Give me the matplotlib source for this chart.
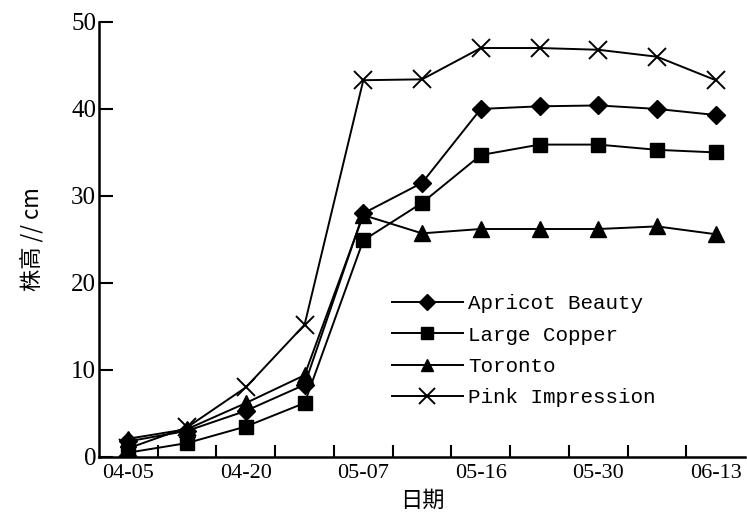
import numpy as np
import matplotlib.pyplot as plt

# 日期(11個觀測點, 只標每隔一個)
dates = ['04-05', '04-12', '04-20', '04-28', '05-07', '05-12',
         '05-16', '05-23', '05-30', '06-06', '06-13']
apricot = [1.8, 3.0, 5.3, 8.3, 28.0, 31.5, 40.0, 40.3, 40.4, 40.0, 39.3]
copper = [0.5, 1.6, 3.5, 6.2, 24.9, 29.2, 34.7, 35.9, 35.9, 35.3, 35.0]
toronto = [2.1, 3.2, 6.2, 9.4, 27.8, 25.7, 26.2, 26.2, 26.2, 26.5, 25.6]
pink = [1.0, 3.4, 8.0, 15.2, 43.3, 43.4, 47.0, 47.0, 46.8, 46.0, 43.3]

serif = ['Liberation Serif', 'Noto Sans CJK SC']
mono = ['Liberation Mono']

fig = plt.figure(figsize=(7.47, 5.28), dpi=100)
ax = fig.add_axes([0.1325, 0.1345, 0.865, 0.824])

x = np.arange(len(dates))
ax.plot(x, apricot, 'k-', marker='D', ms=9, lw=1.4, label='Apricot Beauty')
ax.plot(x, copper, 'k-', marker='s', ms=10, lw=1.4, label='Large Copper')
ax.plot(x, toronto, 'k-', marker='^', ms=11, lw=1.4, label='Toronto')
ax.plot(x, pink, 'k-', marker='x', ms=13, mew=1.4, lw=1.4, label='Pink Impression')

ax.set_xlim(-0.5, len(dates) - 0.5)
ax.set_ylim(0, 50)

# 刻度在類別之間, 標籤每隔一個
ax.set_xticks(np.arange(0.5, len(dates) - 0.5, 1))
ax.set_xticklabels([])
ax.set_xticks(x[::2], minor=True)
ax.set_xticklabels([dates[i] for i in x[::2]], minor=True, family=serif, fontsize=16)
ax.tick_params(axis='x', which='major', direction='in', length=9, width=1.5)
ax.tick_params(axis='x', which='minor', length=0, pad=5)
ax.set_yticks(np.arange(0, 51, 10))
ax.set_yticklabels([str(v) for v in range(0, 51, 10)], family=serif, fontsize=18)
ax.tick_params(axis='y', direction='in', length=10, width=1.5, pad=2)

for s in ['top', 'right']:
    ax.spines[s].set_visible(False)
for s in ['left', 'bottom']:
    ax.spines[s].set_linewidth(1.8)

ax.set_xlabel('日期', family=['Noto Sans CJK SC'], fontsize=16, labelpad=4)
ax.set_ylabel('株高 // cm', family=['Noto Sans CJK SC'], fontsize=16, labelpad=20)

ax.legend(loc='upper left', bbox_to_anchor=(0.437, 0.398), frameon=False,
          prop={'family': mono, 'size': 15}, handlelength=3.4, markerscale=0.85,
          handletextpad=0.25, labelspacing=0.59, borderpad=0)

fig.savefig('out.png', dpi=100)
